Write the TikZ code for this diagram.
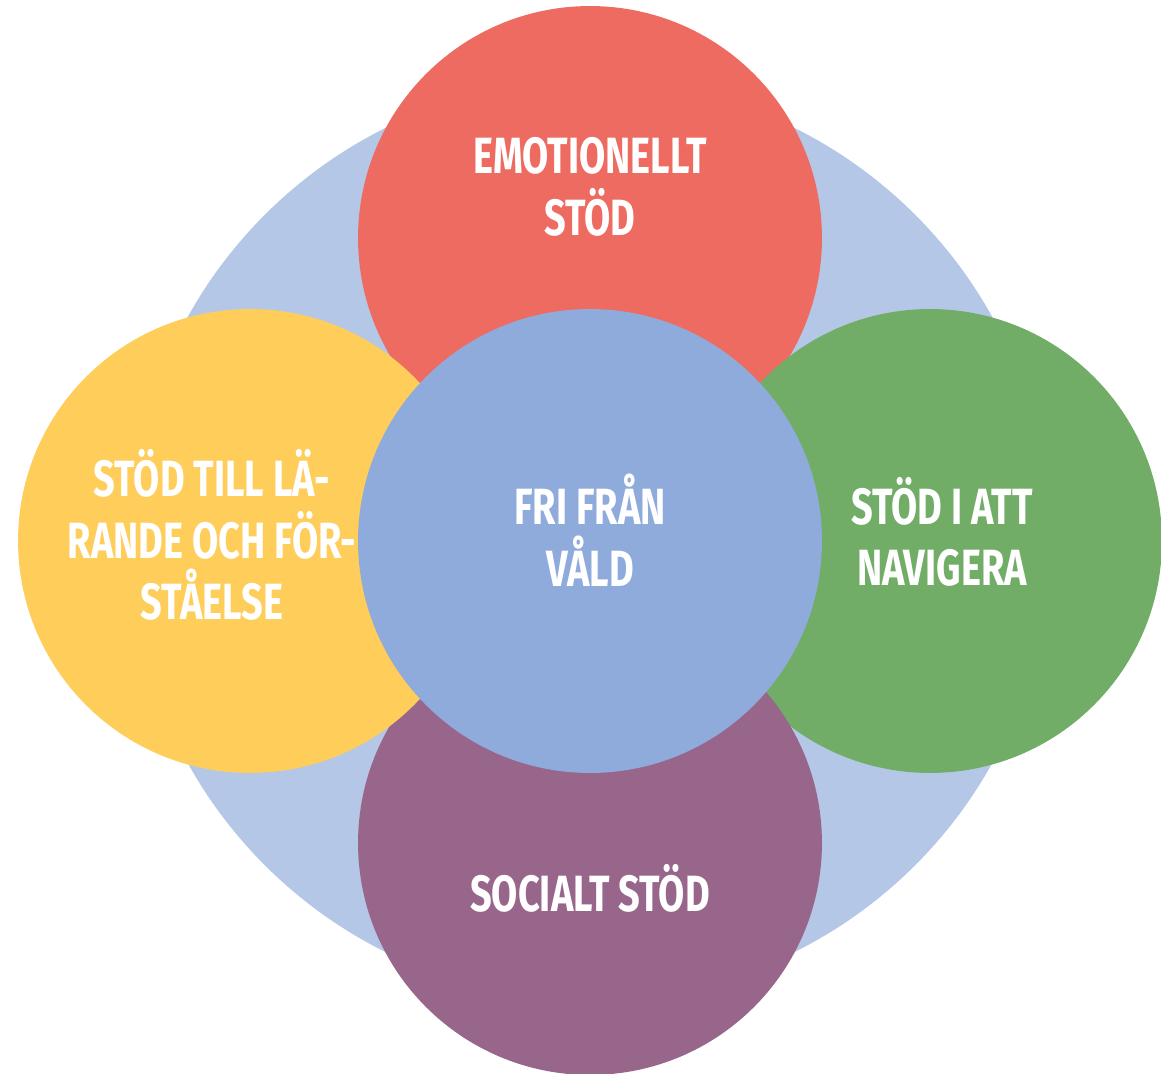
\documentclass[tikz,border=0pt]{standalone}
\usepackage{fontspec}
\newfontfamily\lbl[FakeStretch=0.745]{Fira Sans}
\definecolor{bgblue}{HTML}{B4C7E7}
\definecolor{cblue}{HTML}{8FABDC}
\definecolor{cred}{HTML}{EE6B61}
\definecolor{cyellow}{HTML}{FECD5A}
\definecolor{cgreen}{HTML}{71AD67}
\definecolor{cpurple}{HTML}{99668B}
\tikzset{
  disc/.style={circle, minimum size=9.28cm, inner sep=0pt},
  lab/.style={text=white, align=center, font=\lbl\bfseries\fontsize{29}{35}\selectfont}
}
\begin{document}
\begin{tikzpicture}[x=0.02cm,y=-0.02cm]
\useasboundingbox (0,0) rectangle (1161,1074);
\node[circle, minimum size=18.4cm, inner sep=0pt, fill=bgblue] (bg) at (590,540) {};
\node[disc, fill=cred] (red) at (590,238) {};
\node[disc, fill=cgreen] (green) at (930,541) {};
\node[disc, fill=cpurple] (purple) at (590,843) {};
\node[disc, fill=cyellow] (yellow) at (250,541) {};
\node[disc, fill=cblue] (center) at (590,541) {};
\node[lab] (t1) at (590,187) {EMOTIONELLT\\STÖD};
\node[lab] (t2) at (212,535) {STÖD TILL LÄ-\\RANDE OCH FÖR-\\STÅELSE};
\node[lab] (t3) at (590,530) {FRI FRÅN\\VÅLD};
\node[lab] (t4) at (942,532) {STÖD I ATT\\NAVIGERA};
\node[lab] (t5) at (590,888) {SOCIALT STÖD};
\end{tikzpicture}
\end{document}
